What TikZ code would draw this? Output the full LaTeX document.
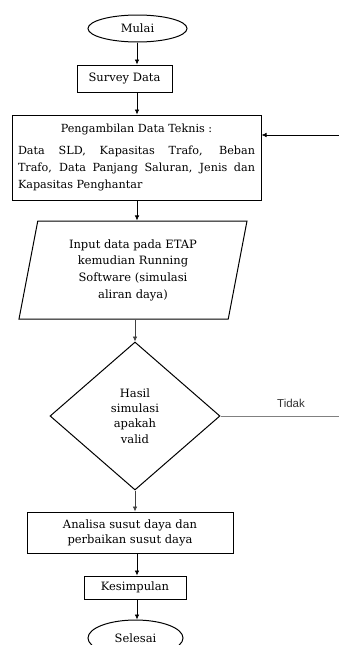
\documentclass[tikz,border=0pt]{standalone}
\usepackage{fontspec}
\setmainfont{DejaVu Serif}
\newfontfamily\tidakfont{Liberation Sans}
\usetikzlibrary{shapes.geometric,arrows.meta}
\begin{document}
\begin{tikzpicture}[x=1pt,y=-1pt,
  every node/.style={font=\fontsize{11.5}{15}\selectfont},
  box/.style={draw, line width=1pt, inner sep=0pt, align=center},
  term/.style={draw, ellipse, line width=1pt, inner sep=0pt},
  arr/.style={-{Latex[length=5pt,width=4.5pt]}, line width=0.7pt},
]
\clip (0,0) rectangle (339,645);
\useasboundingbox (0,0) rectangle (339,645);
\coordinate (ax) at (137,0);
\node[term, minimum width=99pt, minimum height=27pt] (mulai) at (137.5,28.5) {Mulai};
\node[box, minimum width=95pt, minimum height=27pt] (survey) at (124.5,78.5) {Survey Data};
\node[box, minimum width=249pt, minimum height=85pt, text width=237pt, inner xsep=6pt, align=justify,
  font=\fontsize{11.2}{17}\selectfont] (data) at (136.5,157.5)
  {{\centering Pengambilan Data Teknis :\par}\vspace{5pt}Data SLD, Kapasitas Trafo, Beban\linebreak Trafo, Data Panjang Saluran, Jenis dan\linebreak Kapasitas Penghantar};
\node[draw, line width=1pt, trapezium, trapezium left angle=73, trapezium right angle=107,
  trapezium stretches body, minimum width=228pt, minimum height=98pt, inner sep=0pt, align=center,
  font=\fontsize{11.5}{16.7}\selectfont] (input) at (133,270)
  {Input data pada ETAP\\kemudian Running\\Software (simulasi\\aliran daya)};
\node[draw, line width=1pt, diamond, minimum width=170pt, minimum height=148pt, inner sep=0pt, align=center,
  font=\fontsize{11.5}{15.3}\selectfont] (valid) at (135,416) {Hasil\\simulasi\\apakah\\valid};
\node[box, minimum width=206pt, minimum height=41pt] (analisa) at (130,532.5) {Analisa susut daya dan\\perbaikan susut daya};
\node[box, minimum width=102pt, minimum height=23pt] (kesim) at (135,587.5) {Kesimpulan};
\node[term, minimum width=95pt, minimum height=36pt] (selesai) at (135.5,638) {Selesai};
\node[font=\tidakfont\fontsize{11.5}{13}\selectfont, text=black!80] (tidak) at (291,403) {Tidak};
\draw[arr] (mulai.south -| ax) -- (survey.north -| ax);
\draw[arr] (survey.south -| ax) -- (data.north -| ax);
\draw[arr] (data.south -| ax) -- (input.north -| ax);
\draw[arr, black!75] (input.south -| valid.north) -- (valid.north);
\draw[arr, black!75] (valid.south) -- (analisa.north -| valid.south);
\draw[arr] (analisa.south -| ax) -- (kesim.north -| ax);
\draw[arr] (kesim.south -| ax) -- (selesai.north -| ax);
\coordinate (fb) at (339,135);
\draw[arr] (fb) -- (fb -| data.east);
\coordinate (tend) at (339,416);
\draw[black!50, line width=1pt] (valid.east) -- (tend);
\end{tikzpicture}
\end{document}
